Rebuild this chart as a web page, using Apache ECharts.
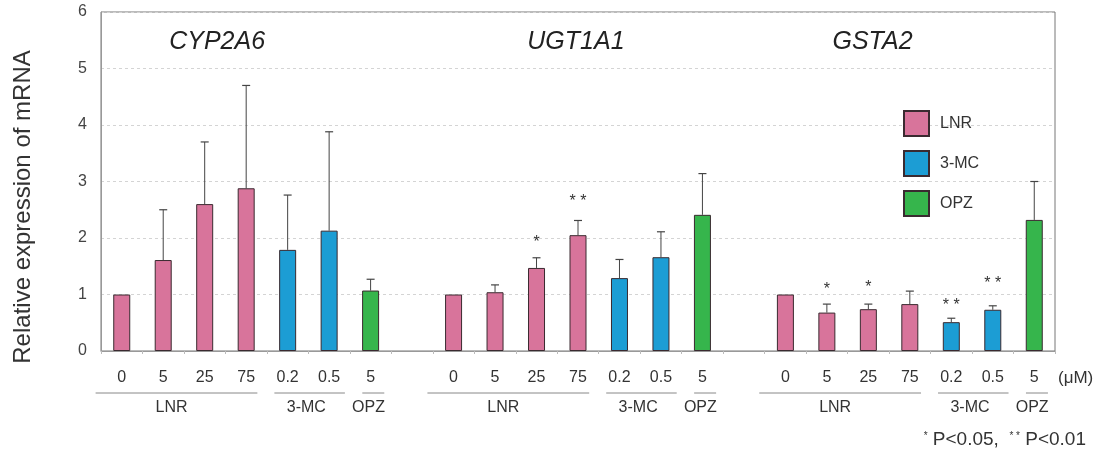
<!DOCTYPE html>
<html>
<head>
<meta charset="utf-8">
<script src="https://cdn.jsdelivr.net/npm/echarts@6/dist/echarts.min.js"></script>
<style>
  html, body { margin: 0; padding: 0; background: #fff; }
  #main { width: 1109px; height: 454px; }
</style>
</head>
<body>
<div id="main"></div>
<script>
// dose labels under each bar ('' = spacer between genes)
const doseLabels = ['0', '5', '25', '75', '0.2', '0.5', '5', '',
  '0', '5', '25', '75', '0.2', '0.5', '5', '',
  '0', '5', '25', '75', '0.2', '0.5', '5'];
// which treatment each bar belongs to
const treatment = ['LNR', 'LNR', 'LNR', 'LNR', '3-MC', '3-MC', 'OPZ', '',
  'LNR', 'LNR', 'LNR', 'LNR', '3-MC', '3-MC', 'OPZ', '',
  'LNR', 'LNR', 'LNR', 'LNR', '3-MC', '3-MC', 'OPZ'];
// mean relative expression
const means = [1.0, 1.61, 2.60, 2.88, 1.79, 2.13, 1.07, null,
  1.0, 1.04, 1.47, 2.05, 1.29, 1.66, 2.41, null,
  1.0, 0.68, 0.74, 0.83, 0.51, 0.73, 2.32];
// top of error bar (mean + SD)
const errorTop = [null, 2.50, 3.70, 4.70, 2.76, 3.88, 1.27, null,
  null, 1.17, 1.65, 2.31, 1.62, 2.11, 3.14, null,
  null, 0.83, 0.83, 1.06, 0.58, 0.80, 3.00];
// significance marks [bar index, height, mark]
const sigMarks = [[10, 1.91, '*'], [11, 2.64, '* *'], [17, 1.08, '*'],
  [18, 1.13, '*'], [20, 0.81, '* *'], [21, 1.19, '* *']];
const genes = ['CYP2A6', 'UGT1A1', 'GSTA2'];
const groups = ['LNR', '3-MC', 'OPZ'];
const yTicks = [0, 1, 2, 3, 4, 5, 6];

const colors = { 'LNR': '#d8749b', '3-MC': '#1c9dd4', 'OPZ': '#36b54c' };
const FONT = 'Liberation Sans, Arial, sans-serif';

const chart = echarts.init(document.getElementById('main'));

// one bar series per treatment, overlapping slots
let barSeries = groups.map(g => ({
  name: g,
  type: 'bar',
  barWidth: 17,
  barGap: '-100%',
  itemStyle: { color: colors[g], borderColor: '#3a2a30', borderWidth: 1 },
  data: means.map((v, i) => (treatment[i] === g && v != null) ? v : '-'),
  z: 3
}));

const errData = [];
errorTop.forEach((t, i) => { if (t != null) errData.push([i, means[i], t]); });

const option = {
  animation: false,
  grid: { left: 101, right: 54, top: 12, bottom: 103, show: true, borderColor: '#777', borderWidth: 1 },
  legend: {
    orient: 'vertical',
    left: 903, top: 110,
    padding: 0,
    itemWidth: 25, itemHeight: 25, itemGap: 13,
    icon: 'rect',
    textStyle: { fontSize: 16, color: '#333', fontFamily: FONT, padding: [0, 0, 0, 6] },
    data: groups
  },
  xAxis: {
    type: 'category',
    data: doseLabels,
    axisLine: { lineStyle: { color: '#999' } },
    axisTick: { show: true, length: 3, lineStyle: { color: '#bbb' } },
    axisLabel: {
      interval: 0, margin: 19, fontSize: 16, color: '#333', fontFamily: FONT,
      formatter: (v, i) => doseLabels[i]
    }
  },
  yAxis: {
    type: 'value',
    min: yTicks[0], max: yTicks[yTicks.length - 1], interval: 1,
    axisLine: { show: true, lineStyle: { color: '#999' } },
    axisTick: { show: false },
    axisLabel: { fontSize: 16, color: '#444', margin: 14, fontFamily: FONT },
    splitLine: { lineStyle: { color: '#d4d4d4', type: [3, 3] } }
  },
  series: barSeries.concat([
    {
      type: 'custom',
      z: 2,
      data: errData,
      renderItem: function (params, api) {
        const base = api.coord([api.value(0), api.value(1)]);
        const top = api.coord([api.value(0), api.value(2)]);
        return {
          type: 'group',
          children: [
            { type: 'line', shape: { x1: base[0], y1: base[1], x2: top[0], y2: top[1] }, style: { stroke: '#444', lineWidth: 1 } },
            { type: 'line', shape: { x1: top[0] - 4, y1: top[1], x2: top[0] + 4, y2: top[1] }, style: { stroke: '#444', lineWidth: 1.2 } }
          ]
        };
      }
    },
    {
      type: 'custom',
      z: 4,
      data: sigMarks.map(s => [s[0], s[1]]),
      renderItem: function (params, api) {
        const p = api.coord([api.value(0), api.value(1)]);
        return {
          type: 'text', x: p[0], y: p[1],
          style: { text: sigMarks[params.dataIndex][2], fontSize: 16, fill: '#333', fontFamily: FONT, align: 'center', verticalAlign: 'middle' }
        };
      }
    }
  ])
};
chart.setOption(option);

// annotations placed from the category scale
const x0 = chart.convertToPixel({ xAxisIndex: 0 }, 0);
const step = chart.convertToPixel({ xAxisIndex: 0 }, 1) - x0;
const xs = k => x0 + step * k;

const titleOffset = [2.3, 2.95, 2.1];
const underline = { 'LNR': [-0.63, 3.27], '3-MC': [3.68, 5.38], 'OPZ': [5.8, 6.33] };
const labelAt = { 'LNR': 1.2, '3-MC': 4.45, 'OPZ': 5.95 };

const graphics = [];
genes.forEach((g, gi) => {
  const start = gi * 8;
  graphics.push({
    type: 'text', x: xs(start + titleOffset[gi]), y: 42,
    style: { text: g, fontSize: 25, fontStyle: 'italic', fill: '#222', fontFamily: FONT, align: 'center', verticalAlign: 'middle' }
  });
  groups.forEach(t => {
    graphics.push({
      type: 'line',
      shape: { x1: xs(start + underline[t][0]), y1: 393, x2: xs(start + underline[t][1]), y2: 393 },
      style: { stroke: '#888', lineWidth: 1 }
    });
    graphics.push({
      type: 'text', x: xs(start + labelAt[t]), y: 408,
      style: { text: t, fontSize: 16, fill: '#333', fontFamily: FONT, align: 'center', verticalAlign: 'middle' }
    });
  });
});
graphics.push({
  type: 'text', x: 23, y: 207, rotation: Math.PI / 2,
  style: { text: 'Relative expression of mRNA', fontSize: 24, fill: '#333', fontFamily: FONT, align: 'center', verticalAlign: 'middle' }
});
graphics.push({
  type: 'text', x: 1058, y: 378,
  style: { text: '(\u03bcM)', fontSize: 17, fill: '#333', fontFamily: FONT, verticalAlign: 'middle' }
});
graphics.push({
  type: 'text', x: 1086, y: 440,
  style: {
    text: '{s|*} P<0.05,  {s|* *} P<0.01',
    fontSize: 19, fill: '#333', fontFamily: FONT, align: 'right', verticalAlign: 'middle',
    rich: { s: { fontSize: 10, fill: '#333', padding: [0, 0, 8, 0], fontFamily: FONT } }
  }
});
chart.setOption({ graphic: graphics });
</script>
</body>
</html>
